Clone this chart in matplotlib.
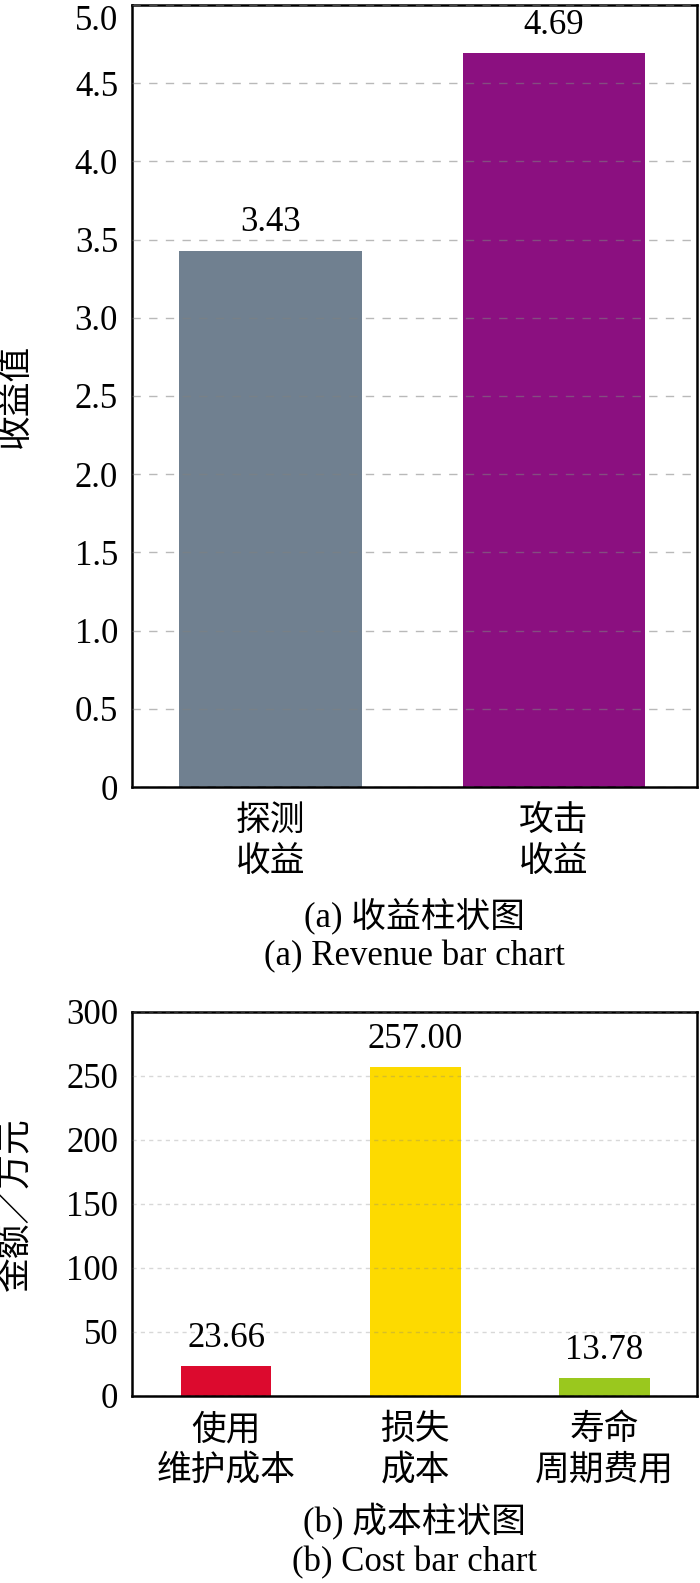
import matplotlib
matplotlib.use("Agg")
import matplotlib.pyplot as plt

plt.rcParams['font.family'] = ['Liberation Serif', 'Noto Sans CJK SC', 'DejaVu Sans']
plt.rcParams['font.weight'] = 500

# ---- data ----
rev_categories = ["探测\n收益", "攻击\n收益"]
rev_values = [3.43, 4.69]
rev_colors = ["#708090", "#8B1080"]
rev_yticks = [0, 0.5, 1.0, 1.5, 2.0, 2.5, 3.0, 3.5, 4.0, 4.5, 5.0]
rev_yticklabels = ["0", "0.5", "1.0", "1.5", "2.0", "2.5", "3.0", "3.5", "4.0", "4.5", "5.0"]

cost_categories = ["使用\n维护成本", "损失\n成本", "寿命\n周期费用"]
cost_values = [23.66, 257.00, 13.78]
cost_colors = ["#DC0A2E", "#FDDA00", "#9AC81E"]
cost_yticks = [0, 50, 100, 150, 200, 250, 300]
cost_yticklabels = ["0", "50", "100", "150", "200", "250", "300"]

W, H = 700, 1583
fig = plt.figure(figsize=(W / 100, H / 100), dpi=100)

FS = 25

def px_axes(l, t, r, b):
    return [l / W, 1 - b / H, (r - l) / W, (b - t) / H]

def style(ax):
    for s in ax.spines.values():
        s.set_linewidth(1.8)
        s.set_color("black")
    ax.tick_params(axis="both", length=0, labelsize=FS)
    ax.tick_params(axis="y", pad=10)
    ax.tick_params(axis="x", pad=13)
    for lab in ax.get_xticklabels():
        lab.set_linespacing(1.3)

# ---- (a) revenue ----
ax1 = fig.add_axes(px_axes(132, 5, 697, 787))
x1 = list(range(len(rev_values)))
bars1 = ax1.bar(x1, rev_values, width=0.645, color=rev_colors, zorder=2)
ax1.set_xlim(-0.49, 1.505)
ax1.set_ylim(0, 5.0)
ax1.set_yticks(rev_yticks)
ax1.set_yticklabels(rev_yticklabels)
ax1.set_xticks(x1)
ax1.set_xticklabels(rev_categories)
ax1.yaxis.grid(True, linestyle=(0, (6, 6)), color="gray", alpha=0.55, linewidth=1.0, zorder=3)
ax1.set_axisbelow(False)
for b, v in zip(bars1, rev_values):
    ax1.annotate(f"{v:.2f}", (b.get_x() + b.get_width() / 2, v), xytext=(0, 8),
                 textcoords="offset points", ha="center", va="bottom", fontsize=FS)
ax1.set_ylabel("收益值", fontsize=FS)
ax1.yaxis.set_label_coords(-0.175, 0.5)
style(ax1)
ax1.get_yticklabels()[-1].set_verticalalignment("top")

# ---- (b) cost ----
ax2 = fig.add_axes(px_axes(132, 1012, 697, 1396))
x2 = list(range(len(cost_values)))
bars2 = ax2.bar(x2, cost_values, width=0.48, color=cost_colors, zorder=2)
ax2.set_xlim(-0.497, 2.49)
ax2.set_ylim(0, 300)
ax2.set_yticks(cost_yticks)
ax2.set_yticklabels(cost_yticklabels)
ax2.set_xticks(x2)
ax2.set_xticklabels(cost_categories)
ax2.yaxis.grid(True, linestyle=(0, (3, 3)), color="gray", alpha=0.3, linewidth=1.0, zorder=3)
ax2.set_axisbelow(False)
for b, v in zip(bars2, cost_values):
    ax2.annotate(f"{v:.2f}", (b.get_x() + b.get_width() / 2, v), xytext=(0, 8),
                 textcoords="offset points", ha="center", va="bottom", fontsize=FS)
ax2.set_ylabel("金额／万元", fontsize=FS)
ax2.yaxis.set_label_coords(-0.175, 0.5)
style(ax2)

# ---- captions ----
cx = (132 + 697) / 2 / W
fig.text(cx, 1 - 917 / H, "(a) 收益柱状图", ha="center", va="center", fontsize=FS)
fig.text(cx, 1 - 957 / H, "(a) Revenue bar chart", ha="center", va="center", fontsize=FS)
fig.text(cx, 1 - 1522 / H, "(b) 成本柱状图", ha="center", va="center", fontsize=FS)
fig.text(cx, 1 - 1563 / H, "(b) Cost bar chart", ha="center", va="center", fontsize=FS)

fig.savefig("out.png", dpi=100)
